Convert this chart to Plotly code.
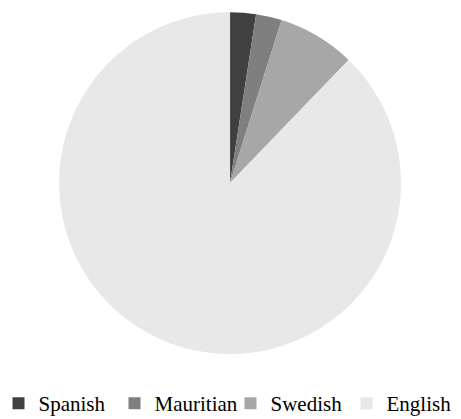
import plotly.graph_objects as go

# Language groups and their counts
languages = ["Spanish", "Mauritian", "Swedish", "English"]
counts = [2, 2, 6, 72]
slice_colors = ["#404040", "#7f7f7f", "#a7a7a7", "#e8e8e8"]

SERIF = "Liberation Serif"

fig = go.Figure(
    go.Pie(
        labels=languages,
        values=counts,
        sort=False,
        direction="clockwise",
        rotation=0,
        textinfo="none",
        hoverinfo="label+value+percent",
        marker=dict(colors=slice_colors, line=dict(width=0)),
        domain=dict(x=[0.128, 0.870], y=[0.155, 0.971]),
    )
)

fig.update_layout(
    width=461,
    height=419,
    margin=dict(l=0, r=0, t=0, b=0, autoexpand=False),
    paper_bgcolor="white",
    plot_bgcolor="white",
    font=dict(family=SERIF, color="#000000"),
    legend=dict(
        orientation="h",
        x=0.5,
        xanchor="center",
        y=-0.012,
        yanchor="bottom",
        font=dict(size=21, family=SERIF, color="#000000"),
        itemwidth=30,
        entrywidth=71,
        entrywidthmode="pixels",
        tracegroupgap=0,
    ),
)

fig.write_html("out.html")
